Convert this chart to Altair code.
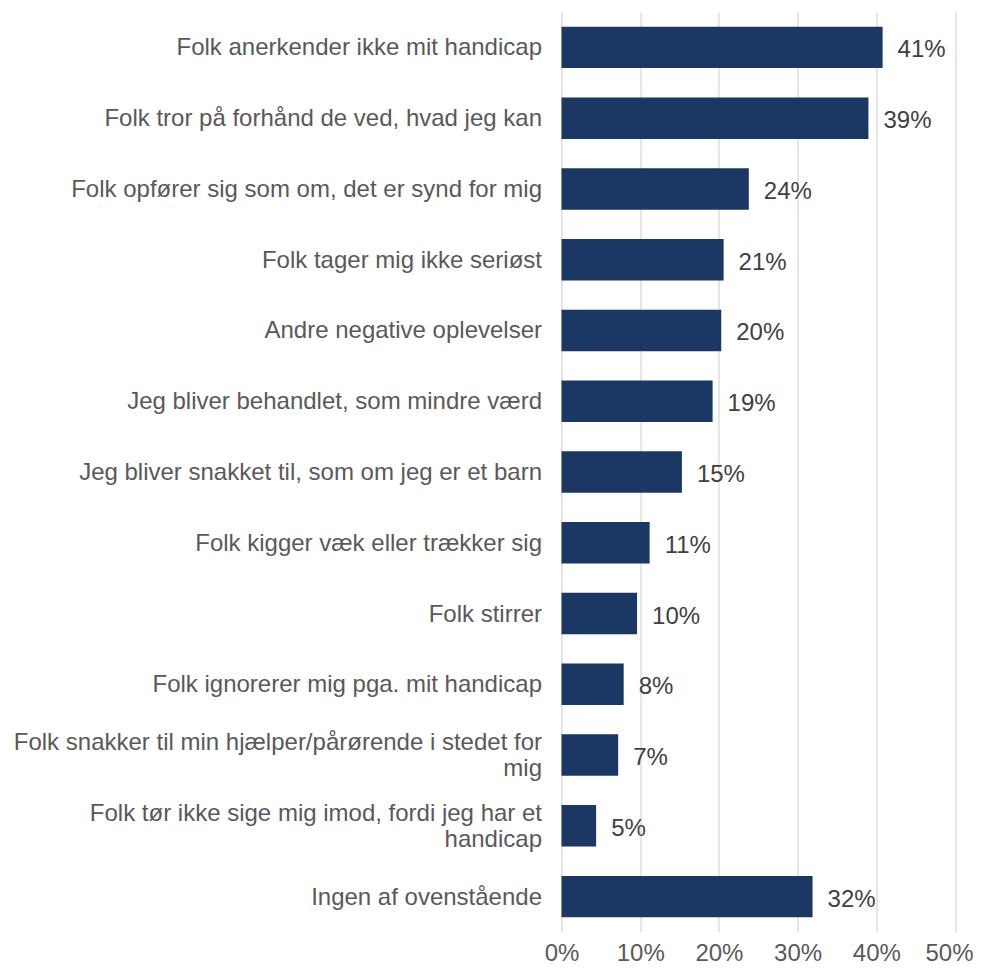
import altair as alt
import pandas as pd

categories = [
    "Folk anerkender ikke mit handicap",
    "Folk tror på forhånd de ved, hvad jeg kan",
    "Folk opfører sig som om, det er synd for mig",
    "Folk tager mig ikke seriøst",
    "Andre negative oplevelser",
    "Jeg bliver behandlet, som mindre værd",
    "Jeg bliver snakket til, som om jeg er et barn",
    "Folk kigger væk eller trækker sig",
    "Folk stirrer",
    "Folk ignorerer mig pga. mit handicap",
    "Folk snakker til min hjælper/pårørende i stedet for\nmig",
    "Folk tør ikke sige mig imod, fordi jeg har et\nhandicap",
    "Ingen af ovenstående",
]
values = [40.8, 39.0, 23.8, 20.6, 20.3, 19.2, 15.3, 11.2, 9.6, 7.9, 7.2, 4.4, 31.9]
value_labels = ["41%", "39%", "24%", "21%", "20%", "19%", "15%", "11%", "10%", "8%", "7%", "5%", "32%"]
tick_values = [0, 10, 20, 30, 40, 50]

FONT = "Liberation Sans"

df = pd.DataFrame({"cat": categories, "val": values, "lbl": value_labels})

y_scale = alt.Scale(paddingInner=0.414, paddingOuter=0.207)

y_enc = alt.Y(
    "cat:N",
    sort=categories,
    scale=y_scale,
    axis=alt.Axis(
        title=None,
        ticks=False,
        domain=False,
        grid=False,
        labelFontSize=24,
        labelColor="#595959",
        labelFont=FONT,
        labelLimit=700,
        labelPadding=20,
        labelOffset={"condition": {"test": "indexof(datum.label, '\\n') >= 0", "value": -12}, "value": 1},
        labelLineHeight=26,
        labelExpr="split(datum.label, '\\n')",
    ),
)

x_enc = alt.X(
    "val:Q",
    scale=alt.Scale(domain=[0, 50], nice=False),
    axis=alt.Axis(
        values=tick_values,
        title=None,
        ticks=False,
        domain=False,
        grid=True,
        gridColor="#d9d9d9",
        gridWidth=1.3,
        labelFontSize=24,
        labelColor="#595959",
        labelFont=FONT,
        labelPadding=9,
        labelFlush=False,
        labelOffset={"condition": {"test": "datum.value == 50", "value": -6}, "value": 0},
        labelExpr="datum.value + '%'",
    ),
)

bars = alt.Chart(df).mark_bar(color="#1b3764").encode(x=x_enc, y=y_enc)

text = alt.Chart(df).mark_text(
    align="left", baseline="middle", dx=15, dy=3, fontSize=24, color="#404040", font=FONT
).encode(
    x=alt.X("val:Q"),
    y=alt.Y("cat:N", sort=categories),
    text="lbl:N",
)

chart = (
    alt.layer(bars, text)
    .properties(
        width=393.5,
        height=920,
        autosize=alt.AutoSizeParams(type="none"),
        padding={"left": 553.5, "top": 4, "right": 18, "bottom": 40},
    )
    .configure_view(stroke=None)
)

chart.save("out.html", embed_options={"renderer": "svg", "actions": False})
